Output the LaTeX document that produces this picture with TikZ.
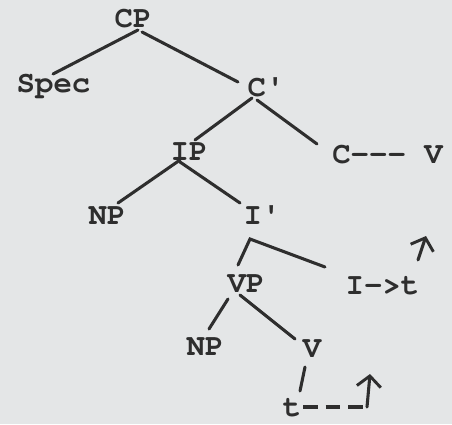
\documentclass[tikz,border=0pt]{standalone}
\usepackage{fontspec}
\setmonofont{TeX Gyre Cursor}
\usetikzlibrary{calc,arrows.meta}
\definecolor{paper}{HTML}{E4E6E7}
\definecolor{ink}{HTML}{2E2E2E}
\tikzset{
  lbl/.style={anchor=base,inner sep=0pt,font=\ttfamily\bfseries\fontsize{23}{25}\selectfont,text=ink},
  edge/.style={draw=ink,line width=2.3pt,line cap=round},
  barb/.style={-{Straight Barb[length=8pt,width=18pt,line width=2.2pt]}}
}
\begin{document}
\begin{tikzpicture}[x=0.75pt,y=-0.75pt]
\fill[paper] (0,0) rectangle (452,424);
\useasboundingbox (0,0) rectangle (452,424);
\node[lbl] (CP) at (133,28) {CP};
\node[lbl] (Spec) at (53.5,93) {Spec};
\node[lbl] (Cb) at (266,97) {C'};
\node[lbl] (IP) at (189,160) {IP};
\node[lbl] (C) at (387.5,163) {C--- V};
\node[lbl] (NPa) at (107,224) {NP};
\node[lbl] (Ib) at (262,224) {I'};
\node[lbl] (VP) at (246,292) {VP};
\node[lbl] (It) at (382.5,294) {I->t};
\node[lbl] (NPb) at (205,355) {NP};
\node[lbl] (V) at (312,357) {V};
\node[lbl] (t) at (292,416) {t};
\draw[edge] ($(CP.base)+(5,2)$) -- ($(Spec.base)+(-0.5,-19)$);
\draw[edge] ($(CP.base)+(9,4)$) -- ($(Cb.base)+(-28,-15)$);
\draw[edge] ($(Cb.base)+(-14,1)$) -- ($(IP.base)+(6,-20)$);
\draw[edge] ($(Cb.base)+(-9,3)$) -- ($(C.base)+(-70.5,-19)$);
\draw[edge] ($(IP.base)+(-9,0)$) -- ($(NPa.base)+(11,-21)$);
\draw[edge] ($(IP.base)+(-9,2)$) -- ($(Ib.base)+(-22,-21)$);
\draw[edge] ($(VP.base)+(-8,-27)$) -- ($(Ib.base)+(-12,15)$) -- ($(It.base)+(-57.5,-27)$);
\draw[edge] ($(VP.base)+(-18,7)$) -- ($(NPb.base)+(4,-26)$);
\draw[edge] ($(VP.base)+(-6,3)$) -- ($(V.base)+(-17,-18)$);
\draw[edge] ($(V.base)+(-7,10)$) -- ($(t.base)+(8,-25)$);
\coordinate (corner) at (367,407);
\coordinate (tipA) at (370,374);
\draw[edge,line cap=butt,dash pattern=on 11pt off 6pt] ($(t.base)+(11,-9)$) -- (corner);
\draw[edge,barb] (corner) -- (tipA);
\coordinate (upS) at (418,260);
\coordinate (upT) at (426,236);
\draw[edge,barb] (upS) -- (upT);
\end{tikzpicture}
\end{document}
